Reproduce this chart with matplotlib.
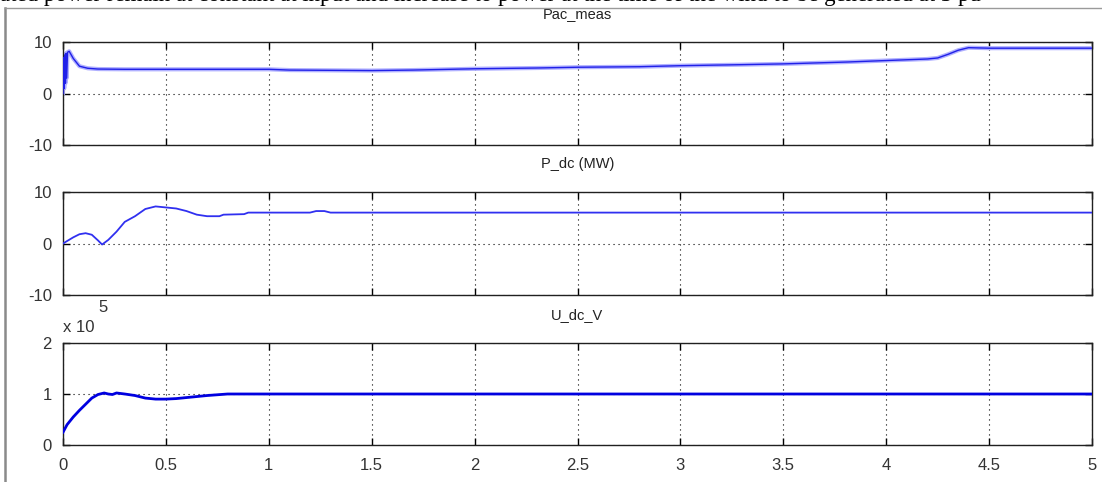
import matplotlib
matplotlib.use("Agg")
import matplotlib.pyplot as plt
from matplotlib.lines import Line2D
from matplotlib.ticker import FixedLocator, FuncFormatter

# ---------------- data ----------------
pac_t = [0, 0.003, 0.006, 0.009, 0.012, 0.015, 0.018, 0.022, 0.03, 0.05, 0.08, 0.12,
         0.17, 0.3, 0.5, 0.75, 1.0, 1.1, 1.3, 1.5, 1.7, 2.0, 2.3, 2.5, 2.8, 3.0,
         3.3, 3.5, 3.8, 4.0, 4.2, 4.25, 4.3, 4.35, 4.4, 4.5, 5.0]
pac_v = [0, 7.0, 1.0, 7.5, 2.0, 7.8, 3.0, 8.0, 8.2, 6.8, 5.3, 4.9,
         4.75, 4.7, 4.7, 4.7, 4.7, 4.55, 4.5, 4.45, 4.55, 4.8, 4.95, 5.1, 5.2, 5.4,
         5.6, 5.75, 6.1, 6.4, 6.7, 6.9, 7.6, 8.4, 8.9, 8.8, 8.8]

pdc_t = [0, 0.05, 0.08, 0.11, 0.14, 0.17, 0.19, 0.22, 0.26, 0.3, 0.35, 0.4, 0.45,
         0.5, 0.55, 0.6, 0.65, 0.7, 0.76, 0.78, 0.88, 0.9, 1.2, 1.23, 1.27, 1.3, 5.0]
pdc_v = [0, 1.2, 1.8, 2.0, 1.7, 0.6, -0.2, 0.7, 2.3, 4.2, 5.3, 6.7, 7.2,
         7.0, 6.8, 6.3, 5.6, 5.3, 5.3, 5.6, 5.7, 6.0, 6.0, 6.3, 6.3, 6.0, 6.0]

udc_t = [0, 0.02, 0.05, 0.08, 0.11, 0.14, 0.17, 0.2, 0.22, 0.24, 0.26, 0.3, 0.35,
         0.4, 0.45, 0.5, 0.55, 0.6, 0.7, 0.8, 5.0]
udc_v = [25000, 40000, 55000, 68000, 80000, 92000, 99000, 102000, 100000, 99000,
         102000, 100000, 97000, 92000, 90000, 90000, 91000, 93000, 97000, 100000, 100000]

titles = ["Pac_meas", "P_dc (MW)", "U_dc_V"]
x_ticks = [0, 0.5, 1, 1.5, 2, 2.5, 3, 3.5, 4, 4.5, 5]
x_labels = ["0", "0.5", "1", "1.5", "2", "2.5", "3", "3.5", "4", "4.5", "5"]
y_ticks_top = [-10, 0, 10]
y_ticks_bot = [0, 100000, 200000]

# ---------------- figure ----------------
W, H = 1102, 482
fig = plt.figure(figsize=(W / 100, H / 100), dpi=100)
plt.rcParams['font.family'] = ['Liberation Sans', 'DejaVu Sans']

def px_axes(x0, y0, x1, y1):
    return fig.add_axes([x0 / W, 1 - y1 / H, (x1 - x0) / W, (y1 - y0) / H])

boxes = [(63, 42, 1092, 145), (63, 192, 1092, 295), (63, 343, 1092, 445)]
series = [(pac_t, pac_v), (pdc_t, pdc_v), (udc_t, udc_v)]

for i, (box, (tt, vv)) in enumerate(zip(boxes, series)):
    ax = px_axes(*box)
    if i == 0:
        ax.plot(tt, vv, color='#b0b0ff', lw=3.0, solid_joinstyle='round', zorder=2)
        ax.plot(tt, vv, color='#2020e8', lw=1.0, zorder=3)
    elif i == 1:
        ax.plot(tt, vv, color='#3030f0', lw=1.3, zorder=3)
    else:
        ax.plot(tt, vv, color='#0000e0', lw=2.0, zorder=3)
    ax.set_xlim(0, 5)
    if i < 2:
        ax.set_ylim(-10, 10)
        ax.yaxis.set_major_locator(FixedLocator(y_ticks_top))
        ax.yaxis.set_major_formatter(FuncFormatter(lambda v, p: "%d" % v))
    else:
        ax.set_ylim(0, 200000)
        ax.yaxis.set_major_locator(FixedLocator(y_ticks_bot))
        ax.yaxis.set_major_formatter(FuncFormatter(lambda v, p: "%d" % round(v / 1e5)))
    ax.set_xticks(x_ticks)
    if i == 2:
        ax.set_xticklabels(x_labels)
    else:
        ax.set_xticklabels([])
    ax.tick_params(direction='in', length=5, width=1, top=True, right=True,
                   labelsize=12, colors='black', labelcolor='#333333')
    ax.tick_params(axis='y', pad=8)
    ax.tick_params(axis='x', pad=9)
    ax.grid(True, color='black', linestyle=(0, (1, 3.5)), linewidth=0.8)
    for s in ax.spines.values():
        s.set_linewidth(1.0)
        s.set_color('#202020')
    ax.set_title(titles[i], fontsize=10.5, pad=17, color='#222222')

# offset label for bottom axes
fig.text(63 / W, 1 - 327 / H, "x 10", fontsize=12, color='#333333', va='center', ha='left')
fig.text(98 / W, 1 - 308 / H, "5", fontsize=12, color='#333333', va='center', ha='left')

# window frame lines
fig.add_artist(Line2D([5 / W, 5 / W], [0, 1 - 8 / H], color='#8a8a8a', lw=1.8,
                      transform=fig.transFigure))
fig.add_artist(Line2D([5 / W, 1], [1 - 8 / H, 1 - 8 / H], color='#9a9a9a', lw=1.0,
                      transform=fig.transFigure))

# partially cropped text from the surrounding document
fig.text(0.0, 1.0 - 0.5 / H,
         "ated power remain at constant at input and increase to power at the time of the wind to be generated at 3 pu",
         fontsize=16.5, family=['Liberation Serif', 'DejaVu Serif'], va='baseline', ha='left', color='black')

fig.savefig("out.png", dpi=100)
